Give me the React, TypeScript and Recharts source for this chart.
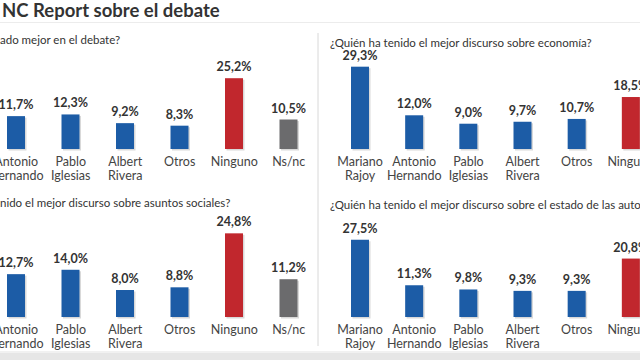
import { Bar, BarChart, Cell, LabelList, XAxis, YAxis } from "recharts";

const debateCats = ["Antonio Hernando", "Pablo Iglesias", "Albert Rivera", "Otros", "Ninguno", "Ns/nc"];
const debateValues = [11.7, 12.3, 9.2, 8.3, 25.2, 10.5];
const socialValues = [12.7, 14.0, 8.0, 8.8, 24.8, 11.2];

const speechCats = ["Mariano Rajoy", "Antonio Hernando", "Pablo Iglesias", "Albert Rivera", "Otros", "Ninguno"];
const economyValues = [29.3, 12.0, 9.0, 9.7, 10.7, 18.5];
const autonomyValues = [27.5, 11.3, 9.8, 9.3, 9.3, 20.8];

const BLUE = "#1c5ca6";
const RED = "#c1272d";
const GREY = "#6b6b6d";
const FONT = "Lato, 'Open Sans', sans-serif";

function barColor(name: string) {
  if (name === "Ninguno") return RED;
  if (name === "Ns/nc") return GREY;
  return BLUE;
}

function fmt(v: number) {
  return v.toFixed(1).replace(".", ",") + "%";
}

function CategoryTick({ x, y, payload }: { x?: number; y?: number; payload?: { value: string } }) {
  const lines = String(payload?.value ?? "").split(" ");
  return (
    <text x={x} y={y} textAnchor="middle" fill="#444" fontSize={12.5} fontFamily={FONT}>
      {lines.map((l, i) => (
        <tspan key={i} x={x} dy={i === 0 ? 17 : 13.5}>
          {l}
        </tspan>
      ))}
    </text>
  );
}

function ShadowBar(props: any) {
  const { x, y, width, height, fill } = props;
  return (
    <g>
      <rect x={x + 1.5} y={y + 1.5} width={width} height={height} fill="#d9d9d9" />
      <rect x={x} y={y} width={width} height={height} fill={fill} />
    </g>
  );
}

interface PanelProps {
  cats: string[];
  values: number[];
  left: number;
  plotWidth: number;
  plotBottom: number;
  maxValue: number;
}

const PLOT_H = 84;
const TOP_PAD = 22;
const AXIS_H = 40;

function Panel({ cats, values, left, plotWidth, plotBottom, maxValue }: PanelProps) {
  const data = cats.map((name, i) => ({ name, value: values[i] }));
  return (
    <div style={{ position: "absolute", left, top: plotBottom - PLOT_H - TOP_PAD }}>
      <BarChart
        width={plotWidth}
        height={PLOT_H + TOP_PAD + AXIS_H}
        data={data}
        margin={{ top: TOP_PAD, right: 0, bottom: 0, left: 0 }}
        barCategoryGap={0}
      >
        <XAxis
          dataKey="name"
          axisLine={false}
          tickLine={false}
          tickSize={0}
          tickMargin={0}
          interval={0}
          height={AXIS_H}
          tick={<CategoryTick />}
        />
        <YAxis hide domain={[0, maxValue]} />
        <Bar dataKey="value" barSize={18} isAnimationActive={false} shape={<ShadowBar />}>
          {data.map((d) => (
            <Cell key={d.name} fill={barColor(d.name)} />
          ))}
          <LabelList
            dataKey="value"
            position="top"
            offset={7}
            formatter={(v: any) => fmt(Number(v))}
            fill="#333"
            fontSize={12.5}
            fontWeight={700}
            fontFamily={FONT}
          />
        </Bar>
      </BarChart>
    </div>
  );
}

export default function App() {
  return (
    <div
      style={{
        position: "fixed",
        left: 0,
        top: 0,
        width: 640,
        height: 360,
        overflow: "hidden",
        background: "#fff",
        fontFamily: FONT,
      }}
    >
      <svg width={640} height={360} style={{ position: "absolute", left: 0, top: 0 }}>
        <text x={2} y={17} fontSize={18.5} fontWeight={700} fill="#333" fontFamily={FONT}>
          NC Report sobre el debate
        </text>
        <line x1={0} x2={640} y1={22.5} y2={22.5} stroke="#ececec" />
        <line x1={318} x2={318} y1={33} y2={346} stroke="#d8d8d8" />
        <rect x={0} y={353} width={640} height={7} fill="#e6e6e6" />
        <rect x={0} y={351} width={640} height={2} fill="#f1f1f1" />
        <text x={0} y={44} fontSize={11.5} fill="#333" fontFamily={FONT}>
          ado mejor en el debate?
        </text>
        <text x={330} y={47} fontSize={11.5} fill="#333" fontFamily={FONT}>
          ¿Quién ha tenido el mejor discurso sobre economía?
        </text>
        <text x={0} y={207} fontSize={11.5} fill="#333" fontFamily={FONT}>
          nido el mejor discurso sobre asuntos sociales?
        </text>
        <text x={330} y={209} fontSize={11.5} fill="#333" fontFamily={FONT}>
          ¿Quién ha tenido el mejor discurso sobre el estado de las autonomías?
        </text>
      </svg>
      <Panel cats={debateCats} values={debateValues} left={-11} plotWidth={327} plotBottom={149} maxValue={29.9} />
      <Panel cats={speechCats} values={economyValues} left={333} plotWidth={325} plotBottom={149} maxValue={29.9} />
      <Panel cats={debateCats} values={socialValues} left={-11} plotWidth={327} plotBottom={317} maxValue={24.9} />
      <Panel cats={speechCats} values={autonomyValues} left={333} plotWidth={325} plotBottom={317} maxValue={29.9} />
    </div>
  );
}
